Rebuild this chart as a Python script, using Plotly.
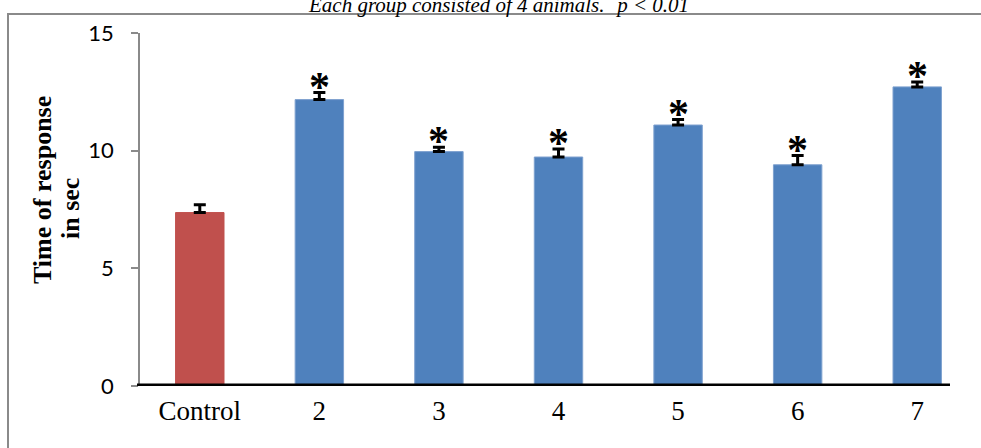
import plotly.graph_objects as go

categories = ["Control", "2", "3", "4", "5", "6", "7"]
values = [7.37, 12.17, 9.96, 9.73, 11.09, 9.40, 12.71]
errors = [0.33, 0.30, 0.18, 0.34, 0.23, 0.39, 0.21]
significant = [False, True, True, True, True, True, True]
bar_colors = ["#C0504D"] + ["#4F81BD"] * 6
edge_colors = ["#C0504D"] + ["#7EA1CF"] * 6
y_ticks = [0, 5, 10, 15]
title_text = "Each group consisted of 4 animals. <sup>*</sup>p < 0.01"
y_title_lines = ["Time of response", "in sec"]

W, H = 981, 448
L, R, T, B = 140, 4, 33, 62
pw, ph = W - L - R, H - T - B


def px_x(p):
    return (p - L) / pw


def px_y(p):
    return (H - B - p) / ph


fig = go.Figure()
fig.add_trace(go.Bar(
    x=categories, y=values,
    marker=dict(color=bar_colors, line=dict(color=edge_colors, width=1)),
    width=0.405,
    error_y=dict(type="data", array=errors, arrayminus=[0] * len(errors),
                 symmetric=False, color="black", thickness=3, width=6),
    showlegend=False,
    hoverinfo="skip",
))

annotations = []
for i, (v, e, s) in enumerate(zip(values, errors, significant)):
    if s:
        annotations.append(dict(x=i, y=v + e, xref="x", yref="y", text="<b>*</b>",
                                showarrow=False, yanchor="middle", yshift=6,
                                font=dict(family="Liberation Serif", size=42, color="black")))

annotations.append(dict(text="<i>" + title_text + "</i>", xref="paper", yref="paper",
                        x=px_x(498), y=px_y(4), xanchor="center", yanchor="middle",
                        showarrow=False,
                        font=dict(family="Liberation Serif", size=21, color="black")))

for line_text, cx, cy in zip(y_title_lines, [42, 70], [190, 209]):
    annotations.append(dict(text="<b>" + line_text + "</b>", xref="paper", yref="paper",
                            x=px_x(cx), y=px_y(cy), xanchor="center", yanchor="middle",
                            textangle=-90, showarrow=False,
                            font=dict(family="Liberation Serif", size=26, color="black")))

shapes = [
    dict(type="rect", xref="paper", yref="paper",
         x0=px_x(8), x1=1.2, y0=-0.4, y1=px_y(14),
         line=dict(color="#8A8A8A", width=2), fillcolor="rgba(0,0,0,0)", layer="below"),
    dict(type="line", xref="paper", yref="y",
         x0=px_x(137), x1=px_x(950), y0=0.05, y1=0.05,
         line=dict(color="black", width=2.5)),
]

fig.update_layout(
    width=W, height=H,
    margin=dict(l=L, r=R, t=T, b=B, autoexpand=False),
    paper_bgcolor="white", plot_bgcolor="white",
    xaxis=dict(type="category", showline=False, showgrid=False, zeroline=False, ticks="",
               range=[-0.5, 6.5], automargin=False, ticklabelstandoff=6,
               tickfont=dict(family="Liberation Serif", size=27, color="black")),
    yaxis=dict(range=[0, 15], tickvals=y_ticks, showgrid=False, zeroline=False,
               showline=True, linecolor="#8A8A8A", linewidth=1.5, automargin=False,
               ticks="outside", ticklen=7, tickcolor="#8A8A8A", tickwidth=1.5,
               ticklabelstandoff=13,
               tickfont=dict(family="Lato", size=22, color="black")),
    annotations=annotations,
    shapes=shapes,
)

fig.write_html("out.html", config={"displayModeBar": False},
               post_script="document.body.style.margin='0';document.body.style.overflow='hidden';")
